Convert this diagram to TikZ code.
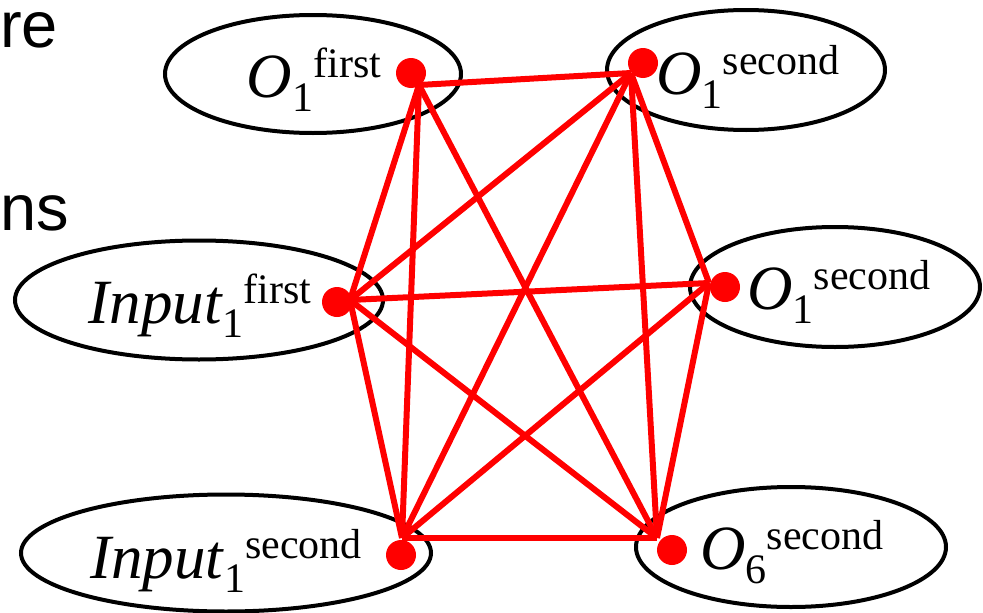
\documentclass[tikz,border=0pt]{standalone}
\usepackage{fontspec}
\setmainfont{Liberation Serif}
\setsansfont{Liberation Sans}
\usetikzlibrary{shapes.geometric}
\newcommand{\scr}{\fontsize{42}{42}\selectfont}
\begin{document}
\begin{tikzpicture}[x=1pt, y=-1pt,
    oval/.style={ellipse, draw, line width=4pt, inner sep=0pt},
    lbl/.style={anchor=base, inner sep=0pt, font=\fontsize{63}{70}\selectfont},
    cut/.style={anchor=base west, inner sep=0pt, text height=36pt, text depth=0pt, font=\sffamily\fontsize{65}{70}\selectfont},
    vdot/.style={circle, fill=red, inner sep=0pt, minimum size=30pt},
    link/.style={red, line width=6pt}]
    \useasboundingbox (0,0) rectangle (983,613);
    % cut-off slide text on the left
    \node[cut] (re) at (0,47) {re};
    \node[cut] (ns) at (0,230) {ns};
    % the six groups
    \node[oval, minimum width=296pt, minimum height=118pt] (g1) at (313,74) {};
    \node[oval, minimum width=278pt, minimum height=120pt] (g2) at (746,70) {};
    \node[oval, minimum width=368pt, minimum height=119pt] (g3) at (199,300) {};
    \node[oval, minimum width=290pt, minimum height=120pt] (g4) at (835,287) {};
    \node[oval, minimum width=410pt, minimum height=117pt] (g5) at (226,553) {};
    \node[oval, minimum width=310pt, minimum height=120pt] (g6) at (791,547) {};
    \node[lbl] (t1) at (314,97) {\textit{O}\raisebox{-14pt}{\scr 1}\raisebox{20pt}{\scr first}};
    \node[lbl] (t2) at (748,94) {\textit{O}\raisebox{-14pt}{\scr 1}\raisebox{20pt}{\scr second}};
    \node[lbl] (t3) at (200,323) {\textit{Input}\raisebox{-14pt}{\scr 1}\raisebox{20pt}{\scr first}};
    \node[lbl] (t4) at (839,309) {\textit{O}\raisebox{-14pt}{\scr 1}\raisebox{20pt}{\scr second}};
    \node[lbl] (t5) at (226,578) {\textit{Input}\raisebox{-14pt}{\scr 1}\raisebox{20pt}{\scr second}};
    \node[lbl] (t6) at (792,569) {\textit{O}\raisebox{-14pt}{\scr 6}\raisebox{20pt}{\scr second}};
    % where the red lines meet
    \coordinate (v1) at (419,85);
    \coordinate (v2) at (631,73);
    \coordinate (v3) at (350,300);
    \coordinate (v4) at (709,283);
    \coordinate (v5) at (402,538);
    \coordinate (v6) at (657,538);
    \draw[link] (v1)--(v2);
    \draw[link] (v1)--(v3);
    \draw[link] (v1)--(v5);
    \draw[link] (v1)--(v6);
    \draw[link] (v2)--(v3);
    \draw[link] (v2)--(v4);
    \draw[link] (v2)--(v5);
    \draw[link] (v2)--(v6);
    \draw[link] (v3)--(v4);
    \draw[link] (v3)--(v5);
    \draw[link] (v3)--(v6);
    \draw[link] (v4)--(v5);
    \draw[link] (v4)--(v6);
    \draw[link] (v5)--(v6);
    \node[vdot] (d1) at (411,73) {};
    \node[vdot] (d2) at (643,63) {};
    \node[vdot] (d3) at (337,302) {};
    \node[vdot] (d4) at (725,287) {};
    \node[vdot] (d5) at (401,555) {};
    \node[vdot] (d6) at (672,550) {};
\end{tikzpicture}
\end{document}
